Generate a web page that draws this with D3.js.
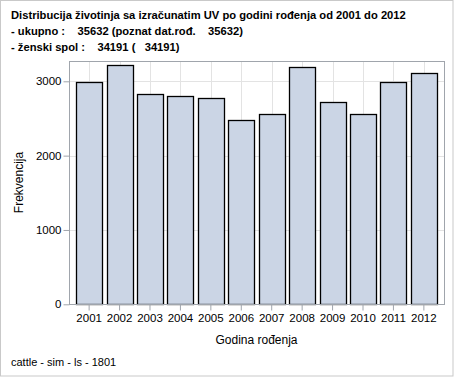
<!DOCTYPE html>
<html>
<head>
<meta charset="utf-8">
<script src="https://cdn.jsdelivr.net/npm/d3@7"></script>
<style>
  body { margin: 0; background: #fff; }
  text { font-family: "Liberation Sans", Arial, sans-serif; fill: #000; }
</style>
</head>
<body>
<div id="chart"></div>
<script>
// data
var years = ["2001", "2002", "2003", "2004", "2005", "2006", "2007", "2008", "2009", "2010", "2011", "2012"];
var counts = [2985, 3213, 2823, 2796, 2773, 2486, 2554, 3199, 2715, 2554, 2985, 3105];
var yTicks = [0, 1000, 2000, 3000];
var titleLines = [
    "Distribucija \u017eivotinja sa izra\u010dunatim UV po godini ro\u0111enja od 2001 do 2012",
    "- ukupno :    35632 (poznat dat.ro\u0111.    35632)",
    "- \u017eenski spol :    34191 (   34191)"
];
var footnote = "cattle - sim - ls - 1801";

var W = 454, H = 378;
var plot = { left: 69, right: 444, top: 61, bottom: 304 };

var svg = d3.select("#chart").append("svg")
    .attr("width", W)
    .attr("height", H);

// outer light border
svg.append("rect")
    .attr("x", 0.5).attr("y", 0.5)
    .attr("width", 452.5).attr("height", 375.5)
    .attr("fill", "#fff")
    .attr("stroke", "#c9c9c9");

// title block
svg.selectAll(".title")
    .data(titleLines).enter().append("text")
    .attr("class", "title")
    .attr("x", 11)
    .attr("y", function(d, i) { return 19 + i * 16; })
    .style("font-size", "11.2px")
    .style("font-weight", "bold")
    .style("white-space", "pre")
    .text(function(d) { return d; });

// scales
var xScale = d3.scaleBand()
    .domain(years)
    .range([plot.left + 5, plot.right - 5])
    .paddingInner(0.145)
    .paddingOuter(0.07);

var yScale = d3.scaleLinear()
    .domain([0, 3000])
    .range([304.3, 81.3]);

// gridlines
svg.append("g").selectAll("line")
    .data(yTicks).enter().append("line")
    .attr("x1", plot.left).attr("x2", plot.right)
    .attr("y1", function(d) { return Math.round(yScale(d)) + 0.5; })
    .attr("y2", function(d) { return Math.round(yScale(d)) + 0.5; })
    .attr("stroke", "#e3e3e3");

svg.append("g").selectAll("line")
    .data(years).enter().append("line")
    .attr("x1", function(d) { return Math.round(xScale(d) + xScale.bandwidth() / 2) + 0.5; })
    .attr("x2", function(d) { return Math.round(xScale(d) + xScale.bandwidth() / 2) + 0.5; })
    .attr("y1", plot.top).attr("y2", plot.bottom)
    .attr("stroke", "#e3e3e3");

// bars
svg.selectAll(".bar")
    .data(counts).enter().append("rect")
    .attr("class", "bar")
    .attr("x", function(d, i) { return Math.round(xScale(years[i])) + 0.5; })
    .attr("y", function(d) { return Math.round(yScale(d)) + 0.5; })
    .attr("width", Math.round(xScale.bandwidth()))
    .attr("height", function(d) { return Math.round(yScale(0)) - Math.round(yScale(d)); })
    .attr("fill", "#cbd5e5")
    .attr("stroke", "#000")
    .attr("stroke-width", 1.3);

// frame: top and right are plain, left and bottom carry the axes
svg.append("rect")
    .attr("x", plot.left + 0.5).attr("y", plot.top + 0.5)
    .attr("width", plot.right - plot.left).attr("height", plot.bottom - plot.top)
    .attr("fill", "none")
    .attr("stroke", "#a0a5ac");

// y axis
var yAxis = d3.axisLeft(yScale).tickValues(yTicks).tickFormat(d3.format("d")).tickSize(6).tickPadding(2);
var gy = svg.append("g")
    .attr("transform", "translate(" + (plot.left + 0.5) + ",0)")
    .call(yAxis);
gy.select(".domain").remove();
gy.selectAll("line").attr("stroke", "#a0a5ac");
gy.selectAll("text")
    .style("font-family", "'Liberation Sans', Arial, sans-serif")
    .style("font-size", "11.5px")
    .attr("fill", "#000");

// x axis
var xAxis = d3.axisBottom(xScale).tickSize(6).tickPadding(3);
var gx = svg.append("g")
    .attr("transform", "translate(0," + (plot.bottom + 0.5) + ")")
    .call(xAxis);
gx.select(".domain").remove();
gx.selectAll("line").attr("stroke", "#a0a5ac");
gx.selectAll("text")
    .style("font-family", "'Liberation Sans', Arial, sans-serif")
    .style("font-size", "11.5px")
    .attr("fill", "#000");

// axis labels
svg.append("text")
    .attr("text-anchor", "middle")
    .attr("transform", "translate(" + [23, 182.5] + ") rotate(-90)")
    .style("font-size", "12px")
    .text("Frekvencija");

svg.append("text")
    .attr("text-anchor", "middle")
    .attr("x", (plot.left + plot.right) / 2)
    .attr("y", 344)
    .style("font-size", "12px")
    .text("Godina ro\u0111enja");

// footnote
svg.append("text")
    .attr("x", 11)
    .attr("y", 366)
    .style("font-size", "11px")
    .text(footnote);
</script>
</body>
</html>
